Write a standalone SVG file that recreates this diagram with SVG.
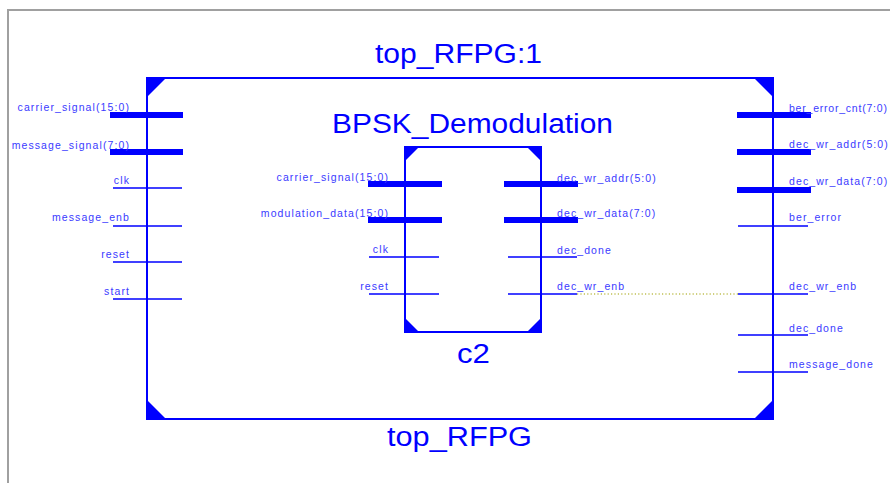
<svg xmlns="http://www.w3.org/2000/svg" width="890" height="483" viewBox="0 0 890 483">
<style>
.frame{fill:none;stroke:#a0a0a0;stroke-width:2}
.box{fill:none;stroke:#0000ff;stroke-width:2}
.tri{fill:#0000ff}
.bus{stroke:#0000ff;stroke-width:6}
.pin{stroke:#0000ff;stroke-width:1.5}
.title{font-family:"Liberation Sans",Arial,sans-serif;font-size:27px;fill:#0000ff}
.lbl{font-family:"Liberation Sans",Arial,sans-serif;font-size:10.5px;letter-spacing:1.1px;fill:#3a3aff}
.l{text-anchor:end}
.wire{stroke:#a0a000;stroke-width:1.2;stroke-dasharray:1.2 2.2;fill:none}
</style>
<rect x="0" y="0" width="890" height="483" fill="#ffffff"/>
<path class="frame" d="M8 483 V10 H890"/>
<g id="top_RFPG">
<rect class="box" x="147" y="78" width="626" height="341"/>
<polygon class="tri" points="146,77 167,77 146,98"/>
<polygon class="tri" points="753,77 774,77 774,98"/>
<polygon class="tri" points="146,399 146,420 167,420"/>
<polygon class="tri" points="774,399 774,420 753,420"/>
<text class="title" x="375" y="63" textLength="167" lengthAdjust="spacingAndGlyphs">top_RFPG:1</text>
<text class="title" x="387" y="446" textLength="145" lengthAdjust="spacingAndGlyphs">top_RFPG</text>
<line class="bus" x1="110" y1="115" x2="183" y2="115"/>
<line class="bus" x1="110" y1="152" x2="183" y2="152"/>
<line class="pin" x1="113" y1="188" x2="182" y2="188"/>
<line class="pin" x1="113" y1="226" x2="182" y2="226"/>
<line class="pin" x1="113" y1="262" x2="182" y2="262"/>
<line class="pin" x1="113" y1="299" x2="182" y2="299"/>
<text class="lbl l" x="130" y="111">carrier_signal(15:0)</text>
<text class="lbl l" x="130" y="149">message_signal(7:0)</text>
<text class="lbl l" x="130" y="184">clk</text>
<text class="lbl l" x="130" y="221">message_enb</text>
<text class="lbl l" x="130" y="258">reset</text>
<text class="lbl l" x="130" y="295">start</text>
<line class="bus" x1="737" y1="115" x2="811" y2="115"/>
<line class="bus" x1="737" y1="152" x2="811" y2="152"/>
<line class="bus" x1="737" y1="190" x2="811" y2="190"/>
<line class="pin" x1="738" y1="226" x2="808" y2="226"/>
<line class="pin" x1="738" y1="294" x2="808" y2="294"/>
<line class="pin" x1="738" y1="335" x2="808" y2="335"/>
<line class="pin" x1="738" y1="372" x2="808" y2="372"/>
<text class="lbl" x="789" y="112" textLength="99" lengthAdjust="spacing">ber_error_cnt(7:0)</text>
<text class="lbl" x="789" y="148">dec_wr_addr(5:0)</text>
<text class="lbl" x="789" y="185">dec_wr_data(7:0)</text>
<text class="lbl" x="789" y="221">ber_error</text>
<text class="lbl" x="789" y="290">dec_wr_enb</text>
<text class="lbl" x="789" y="332">dec_done</text>
<text class="lbl" x="789" y="368">message_done</text>
</g>
<g id="c2">
<rect class="box" x="405" y="147" width="136" height="185"/>
<polygon class="tri" points="404,146 420,146 404,162"/>
<polygon class="tri" points="526,146 542,146 542,162"/>
<polygon class="tri" points="404,317 404,333 420,333"/>
<polygon class="tri" points="542,317 542,333 526,333"/>
<text class="title" x="332" y="133" textLength="281" lengthAdjust="spacingAndGlyphs">BPSK_Demodulation</text>
<text class="title" x="457" y="363" textLength="33" lengthAdjust="spacingAndGlyphs">c2</text>
<line class="bus" x1="368" y1="184" x2="442" y2="184"/>
<line class="bus" x1="368" y1="220" x2="442" y2="220"/>
<line class="pin" x1="369" y1="257" x2="439" y2="257"/>
<line class="pin" x1="369" y1="294" x2="439" y2="294"/>
<text class="lbl l" x="389" y="181">carrier_signal(15:0)</text>
<text class="lbl l" x="389" y="217">modulation_data(15:0)</text>
<text class="lbl l" x="389" y="253">clk</text>
<text class="lbl l" x="389" y="290">reset</text>
<line class="bus" x1="504" y1="184" x2="578" y2="184"/>
<line class="bus" x1="504" y1="220" x2="578" y2="220"/>
<line class="pin" x1="508" y1="257" x2="577" y2="257"/>
<line class="pin" x1="508" y1="294" x2="577" y2="294"/>
<text class="lbl" x="557" y="182">dec_wr_addr(5:0)</text>
<text class="lbl" x="557" y="217">dec_wr_data(7:0)</text>
<text class="lbl" x="557" y="254">dec_done</text>
<text class="lbl" x="557" y="290">dec_wr_enb</text>
</g>
<g id="connectors">
<line class="wire" x1="577" y1="294" x2="738" y2="294"/>
</g>
</svg>
